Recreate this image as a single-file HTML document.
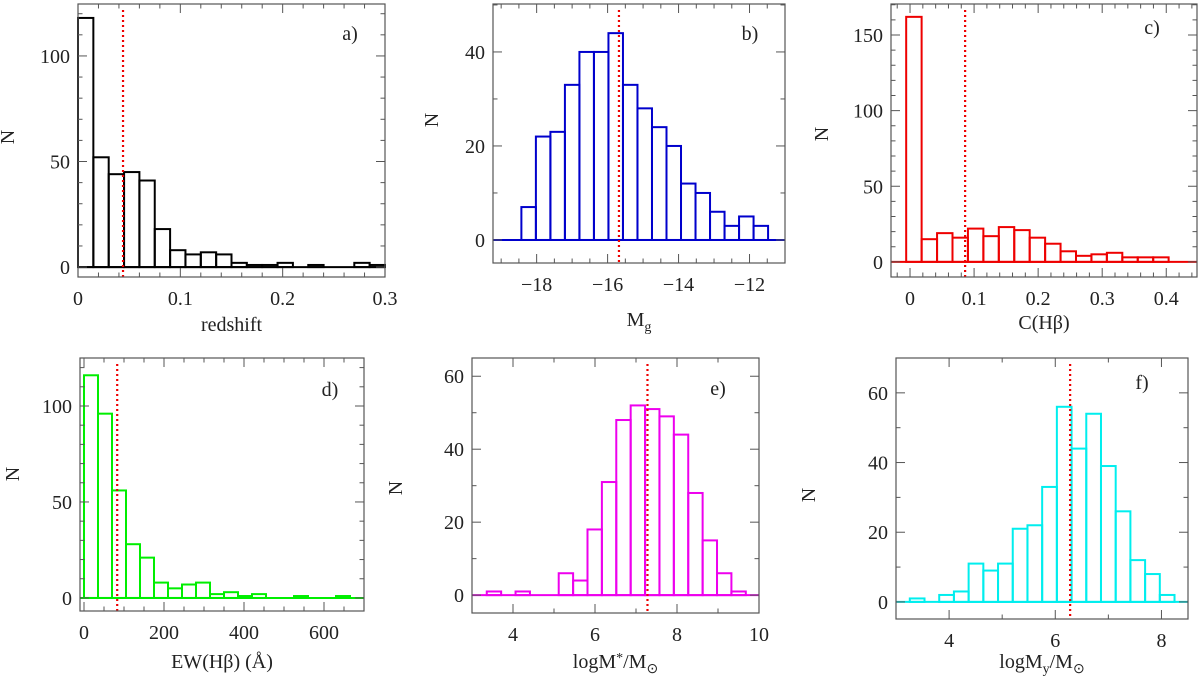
<!DOCTYPE html>
<html><head><meta charset="utf-8"><style>
body{margin:0;background:#fff;}
svg{display:block;font-family:"Liberation Serif",serif;}
</style></head><body>
<svg id="fig" width="1200" height="685" viewBox="0 0 1200 685" xmlns="http://www.w3.org/2000/svg"></svg>
<script>
// ---- data ----
const aValues=[118,52,44,45,41,18,8,6,7,6,2,1,1,2,0,1,0,0,2,1];
const aStart=0, aWidth=0.015, aMedian=0.044;
const bValues=[7,22,23,33,40,40,44,33,28,24,20,12,10,6,3,5,3];
const bStart=-18.43, bWidth=0.409, bMedian=-15.68;
const cValues=[162,15,19,16,22,17,23,21,16,12,7,4,5,6,3,3,3];
const cStart=-0.006, cWidth=0.0241, cMedian=0.086;
const dValues=[116,96,56,28,21,8,5,7,8,2,3,1,2,0,0,1,0,0,1,0];
const dStart=0, dWidth=35, dMedian=83;
const eValues=[1,0,1,0,0,6,4,18,31,48,52,51,49,44,28,15,6,1];
const eStart=3.36, eWidth=0.351, eMedian=7.28;
const fValues=[1,0,2,3,11,9,11,21,22,33,56,44,54,39,26,12,8,2];
const fStart=3.26, fWidth=0.277, fMedian=6.28;
const aTicks=["0","0.1","0.2","0.3"];
const bTicks=["−18","−16","−14","−12"];
const cTicks=["0","0.1","0.2","0.3","0.4"];
const dTicks=["0","200","400","600"];
const eTicks=["4","6","8","10"];
const fTicks=["4","6","8"];

const NS="http://www.w3.org/2000/svg";
const svg=document.getElementById('fig');
function mk(tag,attrs,parent){const e=document.createElementNS(NS,tag);for(const k in attrs)e.setAttribute(k,attrs[k]);(parent||svg).appendChild(e);return e;}

const panels=[
 {id:'a',vals:aValues,start:aStart,w:aWidth,med:aMedian,ticks:aTicks,tickStart:0,tickStep:0.1,minor:0.02,
  px:[78,385],py:[4,277],xr:[0,0.3],yr:[-4.7,124.6],yStep:50,yMinor:10,color:'#000',label:'a)',lx:350,ly:40,xt:'redshift',xtY:331,nX:14,nY:137},
 {id:'b',vals:bValues,start:bStart,w:bWidth,med:bMedian,ticks:bTicks,tickStart:-18,tickStep:2,minor:0.5,
  px:[493,785],py:[4,263],xr:[-19.23,-11],yr:[-4.9,50.2],yStep:20,yMinor:10,color:'#0000cc',label:'b)',lx:750,ly:40,xt:'M<g>',xtY:326,nX:438,nY:120},
 {id:'c',vals:cValues,start:cStart,w:cWidth,med:cMedian,ticks:cTicks,tickStart:0,tickStep:0.1,minor:0.02,
  px:[891,1197],py:[4,277],xr:[-0.0297,0.448],yr:[-10,170.5],yStep:50,yMinor:10,color:'#ee0000',label:'c)',lx:1152,ly:34,xt:'C(Hβ)',xtY:329,nX:828,nY:134},
 {id:'d',vals:dValues,start:dStart,w:dWidth,med:dMedian,ticks:dTicks,tickStart:0,tickStep:200,minor:50,
  px:[80,364],py:[358,611],xr:[-10,700],yr:[-6.8,125],yStep:50,yMinor:10,color:'#00ee00',label:'d)',lx:330,ly:396,xt:'EW(Hβ) (Å)',xtY:668,nX:19,nY:474},
 {id:'e',vals:eValues,start:eStart,w:eWidth,med:eMedian,ticks:eTicks,tickStart:4,tickStep:2,minor:1,
  px:[472,759],py:[358,613],xr:[3,10],yr:[-4.9,65],yStep:20,yMinor:10,color:'#ee00ee',label:'e)',lx:718,ly:395,xt:'logM*/M⊙',xtY:668,nX:402,nY:488},
 {id:'f',vals:fValues,start:fStart,w:fWidth,med:fMedian,ticks:fTicks,tickStart:4,tickStep:2,minor:1,
  px:[896,1188],py:[358,619],xr:[3,8.5],yr:[-4.9,70],yStep:20,yMinor:10,color:'#00eeee',label:'f)',lx:1142,ly:389,xt:'logMy/M⊙',xtY:668,nX:815,nY:495},
];

panels.forEach(p=>{
  const g=mk('g',{});
  
  
  const X=v=>p.px[0]+(v-p.xr[0])/(p.xr[1]-p.xr[0])*(p.px[1]-p.px[0]);
  const Y=v=>p.py[1]-(v-p.yr[0])/(p.yr[1]-p.yr[0])*(p.py[1]-p.py[0]);
  // bars
  const bg=mk('g',{},g);
  
  
  mk('line',{x1:p.px[0],x2:p.px[1],y1:Y(0),y2:Y(0),stroke:p.color,'stroke-width':2},bg);
  p.vals.forEach((v,i)=>{
    const x0=X(p.start+i*p.w),x1=X(p.start+(i+1)*p.w);
    const r=mk('rect',{x:x0,y:Y(v),width:x1-x0,height:Y(0)-Y(v),fill:'none',stroke:p.color,'stroke-width':2},bg);
    
    
  });
  // median line
  const ml=mk('line',{x1:X(p.med),x2:X(p.med),y1:p.py[0]+6,y2:p.py[1],stroke:'#e00',
    'stroke-width':2.2,'stroke-dasharray':'2 3'},g);
  
  
  // frame
  const fr=mk('rect',{x:p.px[0],y:p.py[0],width:p.px[1]-p.px[0],height:p.py[1]-p.py[0],fill:'none',stroke:'#555','stroke-width':1.2},g);
  
  
  // x ticks
  const tk=mk('g',{stroke:'#555','stroke-width':1},g);
  
  
  const eps=1e-9;
  let m0=Math.ceil(p.xr[0]/p.minor-eps);
  for(let k=m0;k*p.minor<=p.xr[1]+eps;k++){
    const v=k*p.minor;const isMaj=Math.abs(v/p.tickStep-Math.round(v/p.tickStep))<1e-6;
    const L=isMaj?9:4.5;const x=X(v);
    mk('line',{x1:x,x2:x,y1:p.py[1],y2:p.py[1]-L},tk);
    mk('line',{x1:x,x2:x,y1:p.py[0],y2:p.py[0]+L},tk);
  }
  let n0=Math.ceil(p.yr[0]/p.yMinor-eps);
  for(let k=n0;k*p.yMinor<=p.yr[1]+eps;k++){
    const v=k*p.yMinor;const isMaj=v%p.yStep===0;
    const L=isMaj?9:4.5;const y=Y(v);
    mk('line',{x1:p.px[0],x2:p.px[0]+L,y1:y,y2:y},tk);
    mk('line',{x1:p.px[1],x2:p.px[1]-L,y1:y,y2:y},tk);
    if(isMaj){
      const t=mk('text',{x:p.px[0]-8,y:y+7,'text-anchor':'end','font-size':20,fill:'#222'},g);
      t.textContent=String(v);
      
      
    }
  }
  p.ticks.forEach((s,i)=>{
    const v=p.tickStart+i*p.tickStep;
    const t=mk('text',{x:X(v),y:p.py[1]+28,'text-anchor':'middle','font-size':20,fill:'#222'},g);
    t.textContent=s;
    
    
  });
  // panel label
  const pl=mk('text',{x:p.lx,y:p.ly,'text-anchor':'middle','font-size':20,fill:'#222'},g);
  pl.textContent=p.label;
  
  
  // y title
  const yt=mk('text',{x:p.nX,y:p.nY,'text-anchor':'middle','font-size':20,fill:'#222',transform:'rotate(-90 '+p.nX+' '+p.nY+')'},g);
  yt.textContent='N';
  
  
  // x title
  const cx=(p.px[0]+p.px[1])/2;
  const xt=mk('text',{x:cx,y:p.xtY,'text-anchor':'middle','font-size':20,fill:'#222'},g);
  
  
  if(p.id==='b'){xt.innerHTML='M<tspan font-size="14" dy="5">g</tspan>';}
  else if(p.id==='e'){xt.innerHTML='logM<tspan font-size="14" dy="-6">*</tspan><tspan dy="6">/M</tspan><tspan font-size="14" dy="5">⊙</tspan>';}
  else if(p.id==='f'){xt.innerHTML='logM<tspan font-size="14" dy="5">y</tspan><tspan dy="-5">/M</tspan><tspan font-size="14" dy="5">⊙</tspan>';}
  else xt.textContent=p.xt;
});
</script>
</body></html>
